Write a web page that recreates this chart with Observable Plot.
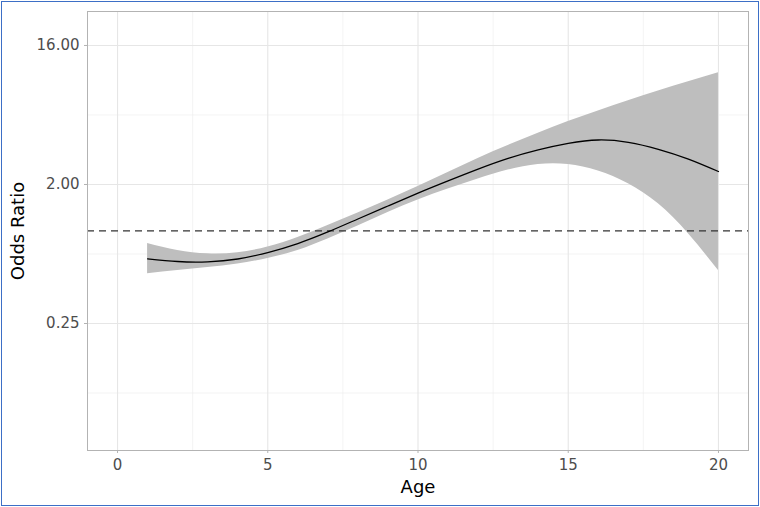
<!DOCTYPE html>
<html>
<head>
<meta charset="utf-8">
<script src="https://cdn.jsdelivr.net/npm/d3@7"></script>
<script src="https://cdn.jsdelivr.net/npm/@observablehq/plot@0.6"></script>
<style>
  html, body { margin: 0; padding: 0; background: #fff; }
  #chart svg { display: block; outline: 1px solid #3d6fc6; outline-offset: -2px; }
</style>
</head>
<body>
<div id="chart"></div>
<script>
// Data
const ages = [1,2,3,4,5,6,7,8,9,10,11,12,13,14,15,16,17,18,19,20];
const oddsRatio = [0.658,0.632,0.629,0.656,0.723,0.827,0.983,1.194,1.450,1.756,2.108,2.514,2.951,3.351,3.694,3.892,3.755,3.386,2.924,2.429];
const lowerCI = [0.526,0.552,0.578,0.609,0.661,0.745,0.885,1.075,1.316,1.586,1.870,2.172,2.485,2.698,2.698,2.448,2.021,1.498,0.957,0.552];
const upperCI = [0.827,0.745,0.709,0.720,0.785,0.905,1.083,1.306,1.586,1.941,2.393,2.951,3.585,4.302,5.133,6.006,7.007,8.101,9.311,10.637];
const xTicks = [0,5,10,15,20];
const xMinor = [2.5,7.5,12.5,17.5];
const yTicks = [0.25,2,16];
const yMinor = [0.0884,0.7071,5.657];
const refLine = [1];

const rows = ages.map((a,i) => ({age: a, or: oddsRatio[i], lo: lowerCI[i], hi: upperCI[i]}));

const font = "DejaVu Sans, sans-serif";
const plot = Plot.plot({
  width: 760,
  height: 507,
  marginLeft: 87,
  marginRight: 12,
  marginTop: 11,
  marginBottom: 57,
  style: {fontFamily: font, background: "#fff"},
  x: {domain: [-1, 21]},
  y: {type: "log", base: 2, domain: [0.0374, 26.6]},
  marks: [
    Plot.ruleX(xMinor, {stroke: "#ededed", strokeWidth: 0.6}),
    Plot.ruleY(yMinor, {stroke: "#ededed", strokeWidth: 0.6}),
    Plot.ruleX(xTicks, {stroke: "#e6e6e6", strokeWidth: 1.1}),
    Plot.ruleY(yTicks, {stroke: "#e6e6e6", strokeWidth: 1.1}),
    Plot.areaY(rows, {x: "age", y1: "lo", y2: "hi", fill: "#bebebe", curve: "natural"}),
    Plot.ruleY(refLine, {stroke: "#333333", strokeWidth: 1.3, strokeDasharray: "7,5"}),
    Plot.lineY(rows, {x: "age", y: "or", stroke: "#000", strokeWidth: 1.3, curve: "natural"}),
    Plot.frame({stroke: "#b3b3b3", strokeWidth: 1}),
    Plot.axisX(xTicks, {tickSize: 3, tickPadding: 6, stroke: "#b3b3b3", color: "#4d4d4d", fontSize: 15, label: null}),
    Plot.axisY(yTicks, {tickSize: 3, tickPadding: 5, stroke: "#b3b3b3", color: "#4d4d4d", fontSize: 15, label: null, tickFormat: d3.format(".2f")}),
    Plot.text(["Age"], {frameAnchor: "bottom", dy: 37, fontSize: 18, fill: "#000", lineAnchor: "middle"}),
    Plot.text(["Odds Ratio"], {frameAnchor: "left", dx: -69, rotate: -90, fontSize: 18, fill: "#000", textAnchor: "middle", lineAnchor: "middle"})
  ]
});
document.getElementById("chart").appendChild(plot);
</script>
</body>
</html>
